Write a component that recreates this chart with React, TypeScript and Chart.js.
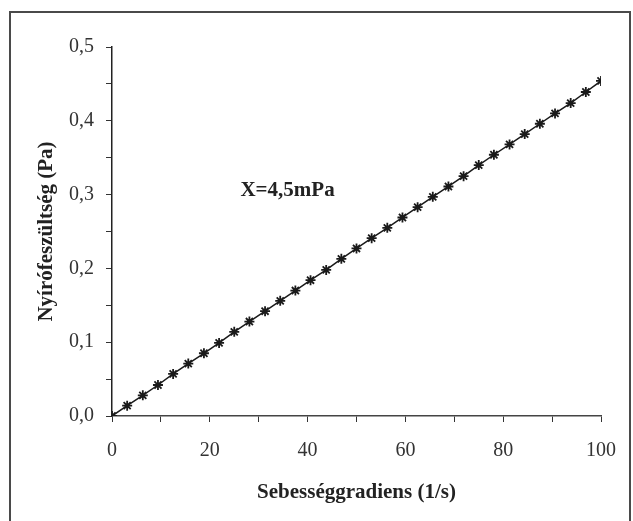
import React, { useEffect, useRef } from "react";
import { Chart, registerables } from "chart.js";

Chart.register(...registerables);

const shearRate: number[] = [
  0, 3.1, 6.3, 9.4, 12.5, 15.6, 18.8, 21.9, 25, 28.1, 31.3, 34.4, 37.5, 40.6, 43.8, 46.9,
  50, 53.1, 56.3, 59.4, 62.5, 65.6, 68.8, 71.9, 75, 78.1, 81.3, 84.4, 87.5, 90.6, 93.8, 96.9, 100,
];
const shearStress: number[] = [
  0.0, 0.014, 0.028, 0.042, 0.057, 0.071, 0.085, 0.099, 0.114, 0.128, 0.142, 0.156, 0.17, 0.184,
  0.198, 0.213, 0.227, 0.241, 0.255, 0.269, 0.283, 0.297, 0.311, 0.325, 0.34, 0.354, 0.368, 0.382,
  0.396, 0.41, 0.424, 0.439, 0.454,
];
const xTitle = "Sebességgradiens (1/s)";
const yTitle = "Nyírófeszültség (Pa)";
const annotationText = "X=4,5mPa";
const annotationAt = { x: 35.9, y: 0.305 };

const SERIF = "'Liberation Serif', 'Times New Roman', serif";

const framePlugin = {
  id: "frameAndNote",
  afterDraw(chart: any) {
    const ctx = chart.ctx;
    ctx.save();
    ctx.strokeStyle = "#4a4a4a";
    ctx.lineWidth = 2;
    ctx.strokeRect(10, 12, 620, 530);
    const xs = chart.scales.x;
    const ys = chart.scales.y;
    ctx.fillStyle = "#222";
    ctx.font = `bold 21px ${SERIF}`;
    ctx.textAlign = "center";
    ctx.textBaseline = "middle";
    ctx.fillText(annotationText, xs.getPixelForValue(annotationAt.x), ys.getPixelForValue(annotationAt.y));
    ctx.restore();
  },
};

export default function App() {
  const ref = useRef<HTMLCanvasElement | null>(null);

  useEffect(() => {
    if (!ref.current) return;
    const data = shearRate.map((x, i) => ({ x, y: shearStress[i] }));
    const chart = new Chart(ref.current, {
      type: "scatter",
      data: {
        datasets: [
          {
            data,
            showLine: true,
            borderColor: "#1a1a1a",
            borderWidth: 1.5,
            pointStyle: "star",
            pointRadius: 5,
            pointBorderWidth: 1.8,
            pointBorderColor: "#1a1a1a",
            pointBackgroundColor: "#1a1a1a",
          },
        ],
      },
      options: {
        animation: false,
        responsive: false,
        devicePixelRatio: 1,
        layout: { padding: { left: 10, right: 31, top: 47, bottom: 10 } },
        plugins: { legend: { display: false }, tooltip: { enabled: false } },
        scales: {
          x: {
            type: "linear",
            min: 0,
            max: 100,
            afterFit: (s: any) => {
              s.height = 95;
            },
            ticks: {
              stepSize: 10,
              color: "#333",
              padding: 17,
              maxRotation: 0,
              autoSkip: false,
              font: { family: SERIF, size: 20 },
              callback: (v: any) => (Math.round(Number(v)) % 20 === 0 ? String(v) : ""),
            },
            grid: { drawOnChartArea: false, drawTicks: true, tickLength: 6, color: "#333" },
            border: { display: true, color: "#444", width: 1.5 },
            title: {
              display: true,
              text: xTitle,
              color: "#222",
              font: { family: SERIF, size: 21, weight: "bold" },
              padding: { top: 0, bottom: 6 },
            },
          },
          y: {
            type: "linear",
            min: 0,
            max: 0.5,
            afterFit: (s: any) => {
              s.width = 102;
            },
            ticks: {
              stepSize: 0.05,
              color: "#333",
              padding: 12,
              autoSkip: false,
              font: { family: SERIF, size: 20 },
              callback: (v: any) => {
                const n = Math.round(Number(v) * 100);
                return n % 10 === 0 ? (n / 100).toFixed(1).replace(".", ",") : "";
              },
            },
            grid: { drawOnChartArea: false, drawTicks: true, tickLength: 6, color: "#333" },
            border: { display: true, color: "#222", width: 1.5 },
            title: {
              display: true,
              text: yTitle,
              color: "#222",
              font: { family: SERIF, size: 21, weight: "bold" },
              padding: { top: 24, bottom: 0 },
            },
          },
        },
      },
      plugins: [framePlugin],
    });
    return () => chart.destroy();
  }, []);

  return (
    <div style={{ position: "fixed", left: 0, top: 0, width: 633, height: 521, background: "#fff" }}>
      <canvas ref={ref} width={633} height={521} style={{ width: 633, height: 521, display: "block" }} />
    </div>
  );
}
